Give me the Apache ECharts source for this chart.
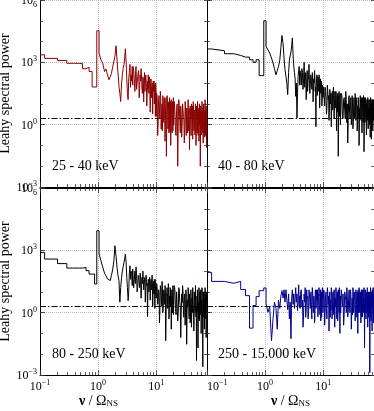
<!DOCTYPE html>
<html>
<head>
<meta charset="utf-8">
<title>Leahy power spectra</title>
<script src="https://cdn.jsdelivr.net/npm/echarts@6/dist/echarts.min.js"></script>
<style>
  html, body { margin: 0; padding: 0; background: #fff; }
  #chart { width: 374px; height: 411px; }
</style>
</head>
<body>
<div id="chart"></div>
<script>
  // frequency in units of the neutron star spin, shared by the four bands
  var freq = [
    0.1, 0.12, 0.2, 0.29, 0.38, 0.46, 0.54, 0.62, 0.7, 0.79, 0.87, 0.95,
    1.04, 1.12, 1.2, 1.29, 1.37, 1.45, 1.54, 1.62, 1.7, 1.79, 1.87, 1.95,
    2.04, 2.12, 2.2, 2.29, 2.37, 2.45, 2.54, 2.62, 2.7, 2.79, 2.87, 2.95,
    3.04, 3.12, 3.2, 3.29, 3.37, 3.45, 3.54, 3.62, 3.7, 3.79, 3.87, 3.95,
    4, 4.1, 4.2, 4.3, 4.4, 4.5, 4.6, 4.7, 4.8, 4.9,
    5, 5.1, 5.2, 5.3, 5.4, 5.5, 5.6, 5.7, 5.8, 5.9,
    6, 6.1, 6.2, 6.3, 6.4, 6.5, 6.6, 6.7, 6.8, 6.9,
    7, 7.1, 7.2, 7.3, 7.4, 7.5, 7.6, 7.7, 7.8, 7.9,
    8, 8.1, 8.2, 8.3, 8.4, 8.5, 8.6, 8.7, 8.8, 8.9,
    9, 9.1, 9.2, 9.3, 9.4, 9.5, 9.6, 9.7, 9.8, 9.9,
    10, 10.2, 10.4, 10.6, 10.8, 11, 11.2, 11.4, 11.6, 11.8,
    12, 12.2, 12.4, 12.6, 12.8, 13, 13.2, 13.4, 13.6, 13.8,
    14, 14.2, 14.4, 14.6, 14.8, 15, 15.2, 15.4, 15.6, 15.8,
    16, 16.2, 16.4, 16.6, 16.8, 17, 17.2, 17.4, 17.6, 17.8,
    18, 18.2, 18.4, 18.6, 18.8, 19, 19.2, 19.4, 19.6, 19.8,
    20, 20.5, 21, 21.5, 22, 22.5, 23, 23.5, 24, 24.5, 25, 25.5, 26, 26.5, 27, 27.5, 28, 28.5, 29, 29.5, 30, 30.5,
    31, 31.5, 32, 32.5, 33, 33.5, 34, 34.5, 35, 35.5, 36, 36.5, 37, 37.5, 38, 38.5, 39, 39.5, 40, 40.5, 41, 41.5,
    42, 42.5, 43, 43.5, 44, 44.5, 45, 45.5, 46, 46.5, 47, 47.5, 48, 48.5, 49, 49.5, 50, 50.5, 51, 51.5, 52, 52.5,
    53, 53.5, 54, 54.5, 55, 55.5, 56, 56.5, 57, 57.5, 58, 58.5, 59, 59.5, 60, 60.5, 61, 61.5, 62, 62.5, 63, 63.5,
    64, 64.5, 65, 65.5, 66, 66.5, 67, 67.5, 68, 68.5, 69, 69.5, 70, 70.5, 71, 71.5, 72, 72.5, 73, 73.5, 74, 74.5,
    75
  ]

  var power25to40 = [
    2300, 1550, 1230, 900, 890, 890, 490, 590, 365, 65, 65, 33000,
    2800, 1300, 930, 360, 480, 250, 145, 200, 300, 630, 1100, 2000,
    6300, 1250, 320, 70, 32, 13, 100, 250, 500, 800, 1600, 4500,
    1000, 160, 32, 16, 160, 320, 800, 63, 250, 126, 630, 80,
    630, 400, 160, 40, 250, 630, 50, 100, 200, 320,
    400, 20, 63, 250, 126, 500, 250, 50, 32, 200,
    160, 12.6, 100, 320, 40, 80, 250, 160, 63, 8,
    32, 126, 50, 250, 100, 32, 200, 100, 50, 4,
    80, 160, 126, 20, 40, 80, 100, 3.2, 16, 126,
    80, 40, 126, 10, 25, 80, 40, 2.5, 100, 50,
    2.5, 32, 20, 0.3, 1, 16, 25, 4, 2, 40,
    16, 0.6, 3.2, 10, 0.5, 25, 16, 1.6, 1.26, 20,
    10, 0.16, 1.6, 8, 20, 0.03, 1, 25, 16, 3.2,
    0.63, 12.6, 6.3, 0.4, 1.6, 20, 0.5, 5, 13, 0.1,
    2, 16, 10, 1.26, 0.4, 10, 13, 0.5, 2.5, 20,
    1, 13, 5, 0.5, 0.3, 6.3, 10, 0.01, 1.3, 16, 8, 1.6, 0.4, 8, 3, 0.25, 1, 10, 10, 2.5, 2, 0.13,
    0.5, 13, 8, 1, 0.3, 6.3, 5, 0.4, 1, 16, 0.5, 3.2, 6, 0.063, 1.2, 8, 5, 0.63, 0.3, 10, 6, 2,
    8, 0.2, 0.6, 13, 5, 1.26, 0.5, 5, 4, 0.32, 0.8, 10, 3, 0.1, 0.5, 6.3, 8, 1.6, 0.4, 13, 3, 0.5,
    0.3, 4, 6, 0.16, 0.6, 10, 5, 1, 8, 0.01, 0.5, 8, 6, 2.5, 4, 0.32, 0.3, 13, 5, 1.6, 0.4, 6.3,
    6, 0.13, 0.6, 10, 4, 0.8, 0.4, 5, 6, 0.25, 0.8, 16, 0.3, 2, 6, 0.4, 1, 8, 3, 0.08, 0.5, 4,
    4
  ]

  var power40to80 = [
    4400, 3600, 2600, 2150, 1780, 1780, 1330, 1000, 1330, 230, 230, 100000,
    5800, 4000, 2800, 1600, 930, 500, 250, 400, 630, 1260, 5000, 19500,
    8000, 1600, 440, 200, 100, 28, 320, 1260, 2000, 3200, 6300, 15000,
    2000, 630, 320, 160, 23, 100, 2.1, 32, 210, 400, 630, 80,
    400, 200, 80, 500, 320, 50, 160, 1000, 63, 160,
    320, 16, 100, 400, 40, 126, 200, 800, 100, 32,
    80, 250, 200, 80, 50, 320, 160, 12.6, 40, 160,
    100, 400, 160, 40, 63, 0.8, 80, 160, 250, 25,
    50, 200, 160, 63, 40, 250, 126, 6.3, 32, 100,
    160, 32, 40, 126, 100, 8, 20, 80, 63, 20,
    25, 63, 20, 8, 63, 40, 16, 3.2, 6.3, 80,
    40, 16, 25, 1.6, 6.3, 50, 32, 10, 32, 0.8,
    6.3, 32, 40, 5, 10, 63, 32, 2, 5, 25,
    40, 6.3, 10, 40, 25, 0.5, 10, 20, 32, 4,
    25, 0.03, 5, 32, 40, 2.5, 5, 16, 32, 1,
    3, 32, 25, 2.5, 2, 16, 20, 5, 2, 40, 16, 1.26, 10, 0.13, 1.6, 20, 25, 4, 2, 12.6, 20, 1,
    2, 25, 16, 0.63, 1.3, 10, 20, 3.2, 2, 32, 16, 1.6, 1.6, 16, 20, 0.5, 1, 8, 2, 20, 16, 0.1,
    1, 6.3, 2, 25, 16, 2, 1.6, 10, 20, 0.4, 2, 16, 20, 4, 1.3, 25, 16, 0.05, 2, 8, 20, 1.26,
    2, 20, 16, 2.5, 10, 0.32, 1.3, 12.6, 16, 1.6, 2, 20, 16, 0.63, 1.6, 6.3, 2.5, 16, 16, 1, 1.6, 10,
    16, 0.25, 2, 20, 16, 2, 10, 0.2, 1.6, 12.6, 16, 3.2, 1.3, 16, 12.6, 0.5, 1.6, 8, 16, 1.6, 1.3, 12.6,
    12.6
  ]

  var power80to250 = [
    800, 380, 230, 140, 140, 140, 150, 105, 72, 72, 24, 8700,
    660, 320, 160, 80, 60, 42, 35, 40, 63, 126, 320, 1660,
    500, 150, 63, 35, 3.2, 16, 50, 100, 160, 260, 400, 660,
    250, 50, 16, 3.8, 10, 80, 180, 40, 100, 74, 20, 126,
    63, 16, 40, 100, 25, 160, 63, 10, 16, 63,
    50, 25, 16, 80, 40, 5, 20, 50, 25, 100,
    40, 12.6, 20, 40, 50, 3.2, 10, 63, 40, 20,
    25, 0.63, 10, 40, 32, 10, 16, 50, 40, 4,
    10, 32, 40, 12.6, 16, 63, 32, 2, 6.3, 25,
    32, 8, 10, 40, 25, 1.6, 40, 20, 10, 6.3,
    5, 25, 16, 2.5, 3.2, 12.6, 10, 0.32, 1.6, 20,
    16, 5, 2, 32, 20, 1, 1.6, 10, 12.6, 3.2,
    2.5, 20, 12.6, 0.045, 0.6, 8, 6.3, 16, 16, 1.6,
    3.2, 25, 12.6, 0.5, 1, 6.3, 2.5, 16, 12.6, 2,
    6.3, 0.16, 2, 12.6, 12.6, 4, 1, 20, 10, 0.8,
    2, 20, 12.6, 1.6, 0.8, 10, 10, 0.4, 1, 16, 12.6, 3.2, 2, 0.063, 1, 8, 3, 20, 10, 1, 0.6, 6.3,
    8, 0.25, 1, 12.6, 8, 0.03, 0.8, 4, 2, 16, 10, 1.26, 0.5, 8, 8, 0.32, 1, 12.6, 6.3, 0.2, 1, 5,
    1, 16, 10, 2, 1.6, 0.13, 0.6, 10, 10, 2.5, 1, 20, 8, 0.63, 2, 0.005, 0.5, 6.3, 1, 12.6, 8, 0.02,
    1, 3.2, 0.5, 16, 10, 0.4, 1, 8, 10, 1.6, 0.8, 12.6, 8, 0.1, 0.6, 4, 1, 16, 10, 0.5, 1, 0.0025,
    0.4, 8, 10, 2, 0.6, 10, 6.3, 0.16, 1, 5, 0.8, 16, 10, 0.63, 0.5, 6.3, 8, 0.063, 0.8, 10, 8, 2.5,
    2.5
  ]

  var power250to15000 = [
    87, 32, 26, 32, 13, 6.6, 0.18, 2.2, 5.9, 11.5, 11.5, 15.5,
    2.7, 1.05, 1.9, 0.045, 0.5, 3.2, 1.6, 0.16, 4, 1.6, 6.3, 11.5,
    5, 12.6, 3.2, 12.6, 4, 1.4, 8, 0.5, 3.2, 0.056, 5, 12.6,
    2.5, 8, 1.6, 5, 16, 3.2, 8, 1.26, 4, 22, 2, 6.3,
    1.6, 10, 12.6, 2, 4, 0.2, 1, 8, 3.2, 16,
    0.6, 1.26, 12.6, 5, 6.3, 0.5, 1, 12.6, 8, 3.2,
    1.6, 8, 10, 0.8, 0.5, 16, 10, 2.5, 1, 6.3,
    4, 0.32, 0.5, 10, 12.6, 1.6, 2, 12.6, 8, 4,
    12.6, 0.63, 1, 8, 6.3, 16, 1.6, 2, 0.8, 6.3,
    12.6, 0.4, 2, 10, 0.6, 3.2, 10, 16, 4, 1,
    1.6, 12.6, 10, 0.25, 1, 6.3, 10, 1.6, 0.5, 16,
    10, 2.5, 6.3, 0.13, 1, 10, 0.6, 4, 1.3, 16,
    10, 0.5, 1, 8, 10, 2, 0.8, 12.6, 6.3, 0.2,
    1, 5, 2, 16, 8, 1.26, 0.5, 8, 10, 0.4,
    1, 12.6, 10, 3.2, 1, 16, 8, 0.1, 2, 6.3,
    1, 12.6, 12.6, 2, 8, 0.25, 0.8, 10, 10, 4, 1, 16, 8, 0.63, 1, 6.3, 12.6, 1.6, 1, 12.6, 8, 0.16,
    1, 5, 0.8, 16, 10, 1, 1, 8, 10, 0.4, 1, 12.6, 10, 2.5, 0.6, 10, 8, 0.1, 12.6, 4, 1, 16,
    10, 1.26, 1, 6.3, 10, 0.32, 1, 12.6, 0.6, 3.2, 12.6, 0.63, 1, 10, 12.6, 2, 1, 16, 8, 0.02, 1, 5,
    1, 12.6, 10, 0.5, 1, 8, 10, 1.6, 1, 16, 10, 0.2, 1, 6.3, 0.6, 10, 10, 1, 1, 8, 10, 0.0013,
    1, 4, 0.6, 16, 10, 0.4, 1, 10, 10, 2, 8, 0.13, 1, 12.6, 10, 3.2, 1, 16, 8, 0.32, 1, 8,
    8
  ]

  var bandLabels = ['25 - 40 keV', '40 - 80 keV', '80 - 250 keV', '250 - 15.000 keV']
  var bandColors = ['#8b0000', '#000000', '#000000', '#00008b']
  var noiseLevel = 2
  var xMin = 0.1
  var xMax = 75
  var yMin = 1e-3
  var yMax = 1e6

  var serif = "'Liberation Serif', 'DejaVu Serif', serif"
  var bands = [power25to40, power40to80, power80to250, power250to15000]

  var tickRich = {
    b: { fontFamily: serif, fontSize: 12, color: '#000', lineHeight: 14, verticalAlign: 'bottom' },
    s: { fontFamily: serif, fontSize: 8, color: '#000', lineHeight: 8, verticalAlign: 'top' },
    bt: { fontFamily: serif, fontSize: 12, color: '#000', lineHeight: 14, verticalAlign: 'bottom', padding: [8, 0, 0, 0] },
    st: { fontFamily: serif, fontSize: 8, color: '#000', lineHeight: 8, verticalAlign: 'top', padding: [8, 0, 0, 0] }
  }

  function powLabel (v) {
    var e = Math.log10(v)
    var n = Math.round(e)
    if (Math.abs(e - n) > 1e-6) return ''
    var exp = n < 0 ? '\u2212' + (-n) : String(n)
    if (n === 6) return '{bt|10}{st|' + exp + '}'
    return '{b|10}{s|' + exp + '}'
  }

  var chart = echarts.init(document.getElementById('chart'), null, { renderer: 'canvas' })

  var grids = []
  var xAxes = []
  var yAxes = []
  var series = []
  var texts = []
  var tickStyle = { color: '#333', width: 0.8 }
  var spine = { show: true, onZero: false, lineStyle: { color: '#000', width: 1 } }
  var dotted = { show: true, lineStyle: { color: '#bbb', type: 'dotted', width: 1 } }

  bands.forEach(function (power, p) {
    var col = p % 2
    var row = Math.floor(p / 2)
    var left = col === 0 ? 40 : 207
    var top = row === 0 ? 0 : 188
    grids.push({ left: left, top: top, width: 167, height: 187, outerBoundsMode: 'none', containLabel: false })

    // x: bottom axis with labels, top mirror with ticks only
    xAxes.push({
      type: 'log', gridIndex: p, position: 'bottom', min: xMin, max: xMax,
      axisLine: spine,
      axisTick: { show: true, inside: true, length: 5, lineStyle: tickStyle },
      minorTick: { show: true, splitNumber: 9, length: 3, lineStyle: tickStyle },
      axisLabel: {
        show: row === 1, margin: 4, formatter: powLabel, rich: tickRich,
        alignMinLabel: col === 1 ? 'left' : 'center'
      },
      splitLine: dotted,
      name: row === 1 ? '{v|\u03bd}{n| / \u03a9}{sub|NS}' : '',
      nameLocation: 'middle',
      nameGap: 18,
      nameTextStyle: {
        padding: col === 0 ? [0, 50, 0, 0] : 0,
        rich: {
          v: { fontFamily: serif, fontSize: 14, fontWeight: 'bold', color: '#000' },
          n: { fontFamily: serif, fontSize: 14, color: '#000' },
          sub: { fontFamily: serif, fontSize: 9, color: '#000', verticalAlign: 'bottom', lineHeight: 10 }
        }
      }
    })
    xAxes.push({
      type: 'log', gridIndex: p, position: 'top', min: xMin, max: xMax,
      show: row === 1,
      axisLine: spine,
      axisTick: { show: true, inside: true, length: 5, lineStyle: tickStyle },
      minorTick: { show: true, splitNumber: 9, length: 3, lineStyle: tickStyle },
      axisLabel: { show: false },
      splitLine: { show: false }
    })

    // y: base-1000 axis for labels and grid, base-10 axes for the decade ticks
    yAxes.push({
      type: 'log', logBase: 1000, gridIndex: p, position: 'left', min: yMin, max: yMax,
      axisLine: spine,
      axisTick: { show: true, inside: true, length: 5, lineStyle: tickStyle },
      axisLabel: { show: col === 0, margin: 3, formatter: powLabel, rich: tickRich },
      splitLine: dotted,
      name: col === 0 ? 'Leahy spectral power' : '',
      nameLocation: 'middle',
      nameGap: 23,
      nameTextStyle: { fontFamily: serif, fontSize: 14, color: '#000' }
    })
    yAxes.push({
      type: 'log', logBase: 10, gridIndex: p, position: 'left', min: yMin, max: yMax,
      axisLine: { show: false },
      axisTick: { show: true, inside: true, length: 3, lineStyle: tickStyle },
      axisLabel: { show: false },
      splitLine: { show: false }
    })
    yAxes.push({
      type: 'log', logBase: 10, gridIndex: p, position: 'right', min: yMin, max: yMax,
      axisLine: spine,
      axisTick: { show: true, inside: true, length: 3, lineStyle: tickStyle },
      axisLabel: { show: false },
      splitLine: { show: false }
    })

    series.push({
      type: 'line',
      xAxisIndex: 2 * p,
      yAxisIndex: 3 * p,
      step: 'end',
      symbol: 'none',
      z: 3,
      lineStyle: { color: bandColors[p], width: 1 },
      data: freq.map(function (f, i) { return [f, power[i]] }),
      markLine: {
        silent: true,
        symbol: 'none',
        z: 2,
        label: { show: false },
        lineStyle: { color: '#000', width: 1, type: [6, 2, 1.5, 2] },
        data: [{ yAxis: noiseLevel }]
      }
    })

    texts.push({
      type: 'text',
      left: left + (col === 0 ? 12 : 11),
      top: top + 159,
      style: { text: bandLabels[p], font: '14px ' + serif, fill: '#000' }
    })
  })

  chart.setOption({
    animation: false,
    grid: grids,
    xAxis: xAxes,
    yAxis: yAxes,
    series: series,
    graphic: texts
  })
</script>
</body>
</html>
